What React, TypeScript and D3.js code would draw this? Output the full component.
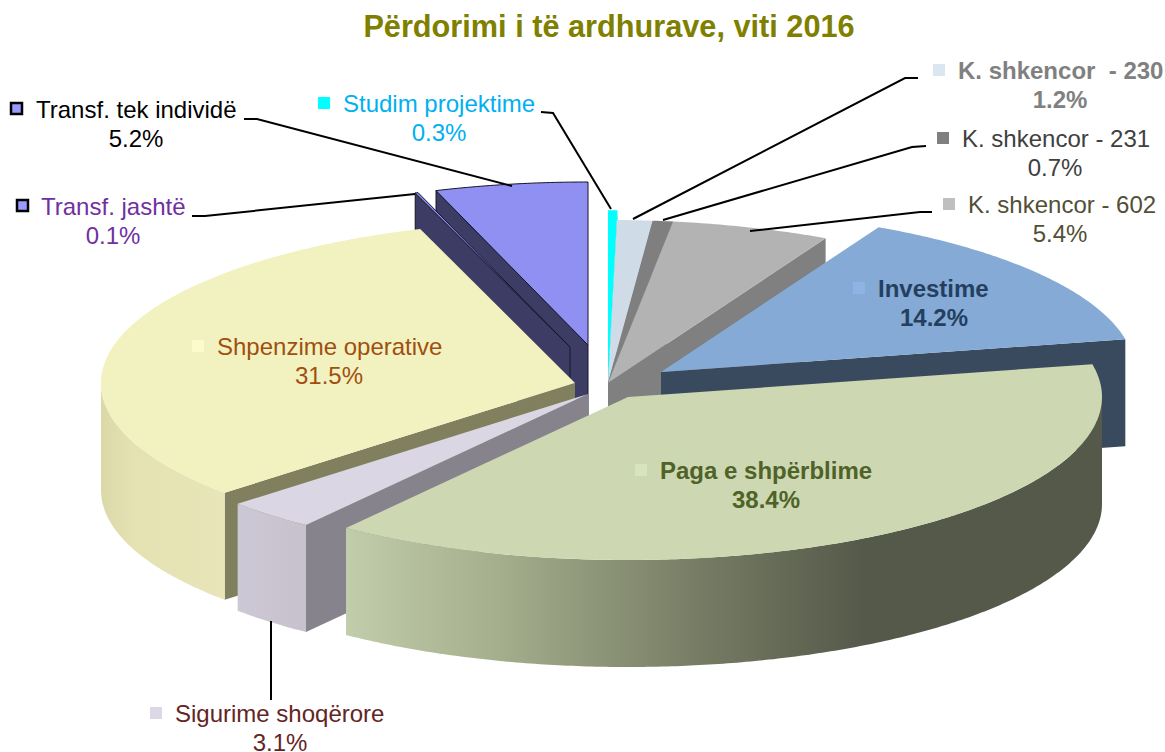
import * as d3 from "d3";

const width = 1165;
const height = 752;

const FONT = "'Liberation Sans', Arial, sans-serif";

// data
const labels = [
  "Studim projektime",
  "K. shkencor  - 230",
  "K. shkencor - 231",
  "K. shkencor - 602",
  "Investime",
  "Paga e shpërblime",
  "Sigurime shoqërore",
  "Shpenzime operative",
  "Transf. jashtë",
  "Transf. tek individë",
];
const values = [0.3, 1.2, 0.7, 5.4, 14.2, 38.4, 3.1, 31.5, 0.1, 5.2];

// styling per slice, same order as the data
const topColors = ["#00ffff", "#d0dbe8", "#7f7f7f", "#b3b3b3", "#85aad6", "#cdd8b2", "#dbd6e3", "#f2f2c0", "#9090f2", "#9090f2"];
const wallColors = ["#00b0b0", "#9aa3ad", "#5c5c5c", "#808080", "#3a4a5e", "#55594a", "#87838c", "#80805f", "#3c3c64", "#3c3c64"];
const textColors = ["#00b0f0", "#808080", "#404040", "#524f36", "#243f60", "#4f6228", "#632523", "#a04f10", "#7030a0", "#000000"];
const markerColors = ["#00ffff", "#dce6f1", "#808080", "#bfbfbf", "#8eb4e3", "#d7e4bd", "#dcd8e6", "#fbfbcc", "#9999ff", "#9999ff"];
const boldLabels = [false, true, false, false, true, true, false, false, false, false];
const outlined = [false, false, false, false, false, false, false, false, true, true];

// explosion of each slice, from the pie centre
const cx = 600;
const cy = 385;
const explodeX = [8, 8, 8, 8, 61, 28, -12, -25, -30, -12];
const explodeY = [-2, -2, -2, -2, -13, 12, 9, -2, -38, -40];
const radiusScale = [1.06, 1, 1, 1, 1, 1, 1, 1, 1, 1];

const rx = 474;
const ry = 163;
const depth = 107;

// draw back to front
const drawOrder = [0, 1, 2, 3, 9, 8, 4, 7, 6, 5];

// label layout: text start, text baseline, percent centre
const labelX = [343, 958, 962, 968, 878, 660, 175, 217, 41, 36];
const labelY = [112, 79, 147, 213, 297, 479, 722, 355, 215, 118];
const pctX = [439, 1060, 1055, 1060, 934, 766, 280, 329, 113, 136];
const markerOffset = [25, 25, 25, 25, 25, 25, 25, 25, 24, 25];

const leaders: [number, number][][] = [
  [[541, 112], [553, 113], [611, 209]],
  [[918, 78], [905, 78], [633, 219]],
  [[926, 146], [912, 147], [663, 220]],
  [[932, 212], [920, 212], [750, 231]],
  [],
  [],
  [[271, 621], [271, 700]],
  [],
  [[192, 216], [205, 216], [415, 194]],
  [[244, 119], [257, 119], [512, 186]],
];

const pieLayout = d3.pie<number>().sort(null).value((d) => d);
const arcs = pieLayout(values);

const rimPoint = (i: number, t: number): [number, number] => [
  cx + explodeX[i] + rx * radiusScale[i] * Math.sin(t),
  cy + explodeY[i] - ry * radiusScale[i] * Math.cos(t),
];
const apex = (i: number): [number, number] => [cx + explodeX[i], cy + explodeY[i]];
const down = (p: [number, number]): [number, number] => [p[0], p[1] + depth];

const line = d3.line();

const sampleArc = (i: number, t0: number, t1: number) => {
  const n = Math.max(2, Math.ceil((t1 - t0) / 0.01));
  return d3.range(n + 1).map((k) => rimPoint(i, t0 + ((t1 - t0) * k) / n));
};

const Slice = ({ i }: { i: number }) => {
  const { startAngle: t0, endAngle: t1 } = arcs[i];
  const stroke = outlined[i] ? "#15152b" : "none";
  const wall = wallColors[i];
  const faces: string[] = [];
  if (Math.sin(t0) < -0.001) {
    const p = rimPoint(i, t0);
    faces.push(line([apex(i), p, down(p), down(apex(i))]) + "Z");
  }
  if (Math.sin(t1) > 0.001) {
    const p = rimPoint(i, t1);
    faces.push(line([apex(i), p, down(p), down(apex(i))]) + "Z");
  }
  const a = Math.max(t0, Math.PI / 2);
  const b = Math.min(t1, (3 * Math.PI) / 2);
  const rim = a < b ? sampleArc(i, a, b) : null;
  return (
    <g>
      {faces.map((d, k) => (
        <path key={k} d={d} fill={wall} stroke={stroke} strokeWidth={1} />
      ))}
      {rim && (
        <path
          d={line([...rim, ...rim.slice().reverse().map(down)]) + "Z"}
          fill={i === 5 ? "url(#rimPaga)" : i === 7 ? "url(#rimShpenzime)" : i === 6 ? "url(#rimSigurime)" : wall}
        />
      )}
      <path
        d={line([apex(i), ...sampleArc(i, t0, t1)]) + "Z"}
        fill={topColors[i]}
        stroke={stroke}
        strokeWidth={1}
      />
    </g>
  );
};

const Label = ({ i }: { i: number }) => {
  const x = labelX[i];
  const y = labelY[i];
  const m = outlined[i] ? 11 : 12;
  return (
    <g fontFamily={FONT} fontSize={24} fontWeight={boldLabels[i] ? "bold" : "normal"} fill={textColors[i]}>
      <rect
        x={x - markerOffset[i]}
        y={y - 15}
        width={m}
        height={m}
        fill={markerColors[i]}
        stroke={outlined[i] ? "#000" : "none"}
        strokeWidth={2.5}
      />
      <text x={x} y={y} xmlSpace="preserve">
        {labels[i]}
      </text>
      <text x={pctX[i]} y={y + 28.5} textAnchor="middle">
        {values[i].toFixed(1)}%
      </text>
    </g>
  );
};

export default function App() {
  return (
    <svg
      width={width}
      height={height}
      viewBox={`0 0 ${width} ${height}`}
      style={{ display: "block", position: "absolute", left: 0, top: 0 }}
    >
      <defs>
        <linearGradient id="rimPaga" gradientUnits="userSpaceOnUse" x1={345} x2={865} y1={0} y2={0}>
          <stop offset="0" stopColor="#c2cdac" />
          <stop offset="0.3" stopColor="#a4ad8c" />
          <stop offset="0.7" stopColor="#747a62" />
          <stop offset="1" stopColor="#55594a" />
        </linearGradient>
        <linearGradient id="rimShpenzime" gradientUnits="userSpaceOnUse" x1={103} x2={226} y1={0} y2={0}>
          <stop offset="0" stopColor="#dcd9a9" />
          <stop offset="0.25" stopColor="#e4e1b3" />
          <stop offset="1" stopColor="#e8e5b8" />
        </linearGradient>
        <linearGradient id="rimSigurime" gradientUnits="userSpaceOnUse" x1={238} x2={307} y1={0} y2={0}>
          <stop offset="0" stopColor="#cdc8d5" />
          <stop offset="1" stopColor="#c6c1cc" />
        </linearGradient>
      </defs>

      {drawOrder.map((i) => (
        <Slice key={i} i={i} />
      ))}

      <g fill="none" stroke="#000" strokeWidth={2}>
        {leaders.map((pts, i) => (pts.length ? <path key={i} d={line(pts) ?? ""} /> : null))}
      </g>

      {labels.map((_, i) => (
        <Label key={i} i={i} />
      ))}

      <text x={609} y={37} textAnchor="middle" fontFamily={FONT} fontSize={30.7} fontWeight="bold" fill="#808000">
        Përdorimi i të ardhurave, viti 2016
      </text>
    </svg>
  );
}
